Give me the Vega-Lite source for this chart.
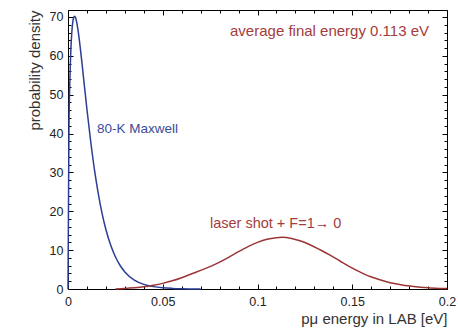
{
  "$schema": "https://vega.github.io/schema/vega-lite/v6.json",
  "width": 379,
  "height": 279,
  "autosize": {"type": "none"},
  "padding": {"left": 68, "top": 10, "right": 11, "bottom": 40},
  "background": "white",
  "config": {
    "view": {"stroke": "#000", "strokeWidth": 1},
    "font": "Liberation Sans",
    "axis": {"grid": false, "domain": false, "labelFlush": false, "labelOverlap": false, "tickColor": "#000", "tickWidth": 1}
  },
  "data": {"values": [
      {"E": 0, "D": 0, "s": "maxwell"},
      {"E": 0.0005, "D": 41.0, "s": "maxwell"},
      {"E": 0.001, "D": 53.9, "s": "maxwell"},
      {"E": 0.0015, "D": 61.4, "s": "maxwell"},
      {"E": 0.002, "D": 66.0, "s": "maxwell"},
      {"E": 0.0025, "D": 68.6, "s": "maxwell"},
      {"E": 0.003, "D": 69.9, "s": "maxwell"},
      {"E": 0.0035, "D": 70.2, "s": "maxwell"},
      {"E": 0.004, "D": 69.8, "s": "maxwell"},
      {"E": 0.005, "D": 67.5, "s": "maxwell"},
      {"E": 0.006, "D": 64.0, "s": "maxwell"},
      {"E": 0.007, "D": 59.8, "s": "maxwell"},
      {"E": 0.008, "D": 55.3, "s": "maxwell"},
      {"E": 0.009, "D": 50.7, "s": "maxwell"},
      {"E": 0.010, "D": 46.2, "s": "maxwell"},
      {"E": 0.012, "D": 37.9, "s": "maxwell"},
      {"E": 0.014, "D": 30.6, "s": "maxwell"},
      {"E": 0.016, "D": 24.5, "s": "maxwell"},
      {"E": 0.018, "D": 19.4, "s": "maxwell"},
      {"E": 0.020, "D": 15.3, "s": "maxwell"},
      {"E": 0.0225, "D": 11.3, "s": "maxwell"},
      {"E": 0.025, "D": 8.3, "s": "maxwell"},
      {"E": 0.0275, "D": 6.05, "s": "maxwell"},
      {"E": 0.030, "D": 4.4, "s": "maxwell"},
      {"E": 0.035, "D": 2.3, "s": "maxwell"},
      {"E": 0.040, "D": 1.19, "s": "maxwell"},
      {"E": 0.045, "D": 0.61, "s": "maxwell"},
      {"E": 0.050, "D": 0.31, "s": "maxwell"},
      {"E": 0.055, "D": 0.16, "s": "maxwell"},
      {"E": 0.060, "D": 0.08, "s": "maxwell"},
      {"E": 0.070, "D": 0.02, "s": "maxwell"},
      {"E": 0.025, "D": 0.0, "s": "laser"},
      {"E": 0.030, "D": 0.12, "s": "laser"},
      {"E": 0.035, "D": 0.3, "s": "laser"},
      {"E": 0.040, "D": 0.55, "s": "laser"},
      {"E": 0.045, "D": 0.95, "s": "laser"},
      {"E": 0.050, "D": 1.45, "s": "laser"},
      {"E": 0.055, "D": 2.1, "s": "laser"},
      {"E": 0.060, "D": 2.9, "s": "laser"},
      {"E": 0.065, "D": 3.85, "s": "laser"},
      {"E": 0.070, "D": 4.8, "s": "laser"},
      {"E": 0.075, "D": 5.75, "s": "laser"},
      {"E": 0.080, "D": 6.9, "s": "laser"},
      {"E": 0.085, "D": 8.2, "s": "laser"},
      {"E": 0.090, "D": 9.6, "s": "laser"},
      {"E": 0.095, "D": 10.9, "s": "laser"},
      {"E": 0.100, "D": 12.0, "s": "laser"},
      {"E": 0.105, "D": 12.8, "s": "laser"},
      {"E": 0.110, "D": 13.2, "s": "laser"},
      {"E": 0.113, "D": 13.3, "s": "laser"},
      {"E": 0.118, "D": 13.0, "s": "laser"},
      {"E": 0.1224, "D": 12.4, "s": "laser"},
      {"E": 0.1277, "D": 11.4, "s": "laser"},
      {"E": 0.133, "D": 10.1, "s": "laser"},
      {"E": 0.1383, "D": 8.7, "s": "laser"},
      {"E": 0.1435, "D": 7.2, "s": "laser"},
      {"E": 0.1488, "D": 5.7, "s": "laser"},
      {"E": 0.154, "D": 4.4, "s": "laser"},
      {"E": 0.1594, "D": 3.2, "s": "laser"},
      {"E": 0.165, "D": 2.3, "s": "laser"},
      {"E": 0.170, "D": 1.6, "s": "laser"},
      {"E": 0.1755, "D": 1.1, "s": "laser"},
      {"E": 0.1805, "D": 0.75, "s": "laser"},
      {"E": 0.186, "D": 0.45, "s": "laser"},
      {"E": 0.191, "D": 0.28, "s": "laser"},
      {"E": 0.196, "D": 0.15, "s": "laser"},
      {"E": 0.200, "D": 0.1, "s": "laser"},
      {"E": 0.0855, "D": 66.4, "s": "avgtext", "t": "average final energy 0.113 eV"},
      {"E": 0.0153, "D": 41.2, "s": "mxtext", "t": "80-K Maxwell"},
      {"E": 0.0749, "D": 16.8, "s": "lstext", "t": "laser shot + F=1→ 0"}
  ]},
  "resolve": {"axis": {"x": "independent", "y": "independent"}},
  "layer": [
    {
      "transform": [{"filter": {"field": "s", "equal": "maxwell"}}],
      "mark": {"type": "line", "strokeWidth": 1.5, "interpolate": "monotone", "color": "#2c3e94"},
      "encoding": {
        "x": {"field": "E", "type": "quantitative",
          "scale": {"domain": [0, 0.2], "nice": false, "zero": false},
          "axis": {"orient": "bottom", "values": [0, 0.05, 0.1, 0.15, 0.2], "format": "~g",
            "tickSize": 5, "offset": -5, "labelPadding": 6, "labelFontSize": 12.5, "labelColor": "#222",
            "title": "pμ energy in LAB [eV]", "titleAnchor": "end", "titleFontWeight": "normal", "titleFontSize": 15, "titleColor": "#333", "titlePadding": 4}},
        "y": {"field": "D", "type": "quantitative",
          "scale": {"domain": [0, 71.8], "nice": false},
          "axis": {"orient": "left", "values": [0, 10, 20, 30, 40, 50, 60, 70],
            "tickSize": 5, "offset": -5, "labelPadding": 5, "labelFontSize": 12.5, "labelColor": "#222",
            "title": "probability density", "titleAnchor": "end", "titleFontWeight": "normal", "titleFontSize": 15, "titleColor": "#333", "titlePadding": 7}}
      }
    },
    {
      "transform": [{"filter": {"field": "s", "equal": "laser"}}],
      "mark": {"type": "line", "strokeWidth": 1.5, "interpolate": "monotone", "color": "#9b3535"},
      "encoding": {
        "x": {"field": "E", "type": "quantitative", "axis": {"orient": "bottom", "values": [0.01, 0.02, 0.03, 0.04, 0.06, 0.07, 0.08, 0.09, 0.11, 0.12, 0.13, 0.14, 0.16, 0.17, 0.18, 0.19], "labels": false, "tickSize": 3, "offset": -3, "title": null}},
        "y": {"field": "D", "type": "quantitative", "axis": {"orient": "left", "values": [2, 4, 6, 8, 12, 14, 16, 18, 22, 24, 26, 28, 32, 34, 36, 38, 42, 44, 46, 48, 52, 54, 56, 58, 62, 64, 66, 68], "labels": false, "tickSize": 3, "offset": -3, "title": null}}
      }
    },
    {
      "mark": {"type": "point", "opacity": 0},
      "encoding": {
        "x": {"field": "E", "type": "quantitative", "axis": {"orient": "top", "values": [0, 0.05, 0.1, 0.15, 0.2], "labels": false, "tickSize": 5, "offset": -5, "title": null}},
        "y": {"field": "D", "type": "quantitative", "axis": {"orient": "right", "values": [0, 10, 20, 30, 40, 50, 60, 70], "labels": false, "tickSize": 5, "offset": -5, "title": null}}
      }
    },
    {
      "mark": {"type": "point", "opacity": 0},
      "encoding": {
        "x": {"field": "E", "type": "quantitative", "axis": {"orient": "top", "values": [0.01, 0.02, 0.03, 0.04, 0.06, 0.07, 0.08, 0.09, 0.11, 0.12, 0.13, 0.14, 0.16, 0.17, 0.18, 0.19], "labels": false, "tickSize": 3, "offset": -3, "title": null}},
        "y": {"field": "D", "type": "quantitative", "axis": {"orient": "right", "values": [2, 4, 6, 8, 12, 14, 16, 18, 22, 24, 26, 28, 32, 34, 36, 38, 42, 44, 46, 48, 52, 54, 56, 58, 62, 64, 66, 68], "labels": false, "tickSize": 3, "offset": -3, "title": null}}
      }
    },
    {
      "transform": [{"filter": {"field": "s", "equal": "avgtext"}}],
      "mark": {"type": "text", "align": "left", "baseline": "middle", "fontSize": 15, "color": "#a33c3c"},
      "encoding": {
        "x": {"field": "E", "type": "quantitative", "axis": {"orient": "bottom", "labels": false, "ticks": false, "title": null, "values": []}},
        "y": {"field": "D", "type": "quantitative", "axis": {"orient": "left", "labels": false, "ticks": false, "title": null, "values": []}},
        "text": {"field": "t"}
      }
    },
    {
      "transform": [{"filter": {"field": "s", "equal": "mxtext"}}],
      "mark": {"type": "text", "align": "left", "baseline": "middle", "fontSize": 13.5, "color": "#3a4c9c"},
      "encoding": {
        "x": {"field": "E", "type": "quantitative", "axis": {"orient": "bottom", "labels": false, "ticks": false, "title": null, "values": []}},
        "y": {"field": "D", "type": "quantitative", "axis": {"orient": "left", "labels": false, "ticks": false, "title": null, "values": []}},
        "text": {"field": "t"}
      }
    },
    {
      "transform": [{"filter": {"field": "s", "equal": "lstext"}}],
      "mark": {"type": "text", "align": "left", "baseline": "middle", "fontSize": 14.5, "color": "#a33c3c"},
      "encoding": {
        "x": {"field": "E", "type": "quantitative", "axis": {"orient": "bottom", "labels": false, "ticks": false, "title": null, "values": []}},
        "y": {"field": "D", "type": "quantitative", "axis": {"orient": "left", "labels": false, "ticks": false, "title": null, "values": []}},
        "text": {"field": "t"}
      }
    }
  ]
}
